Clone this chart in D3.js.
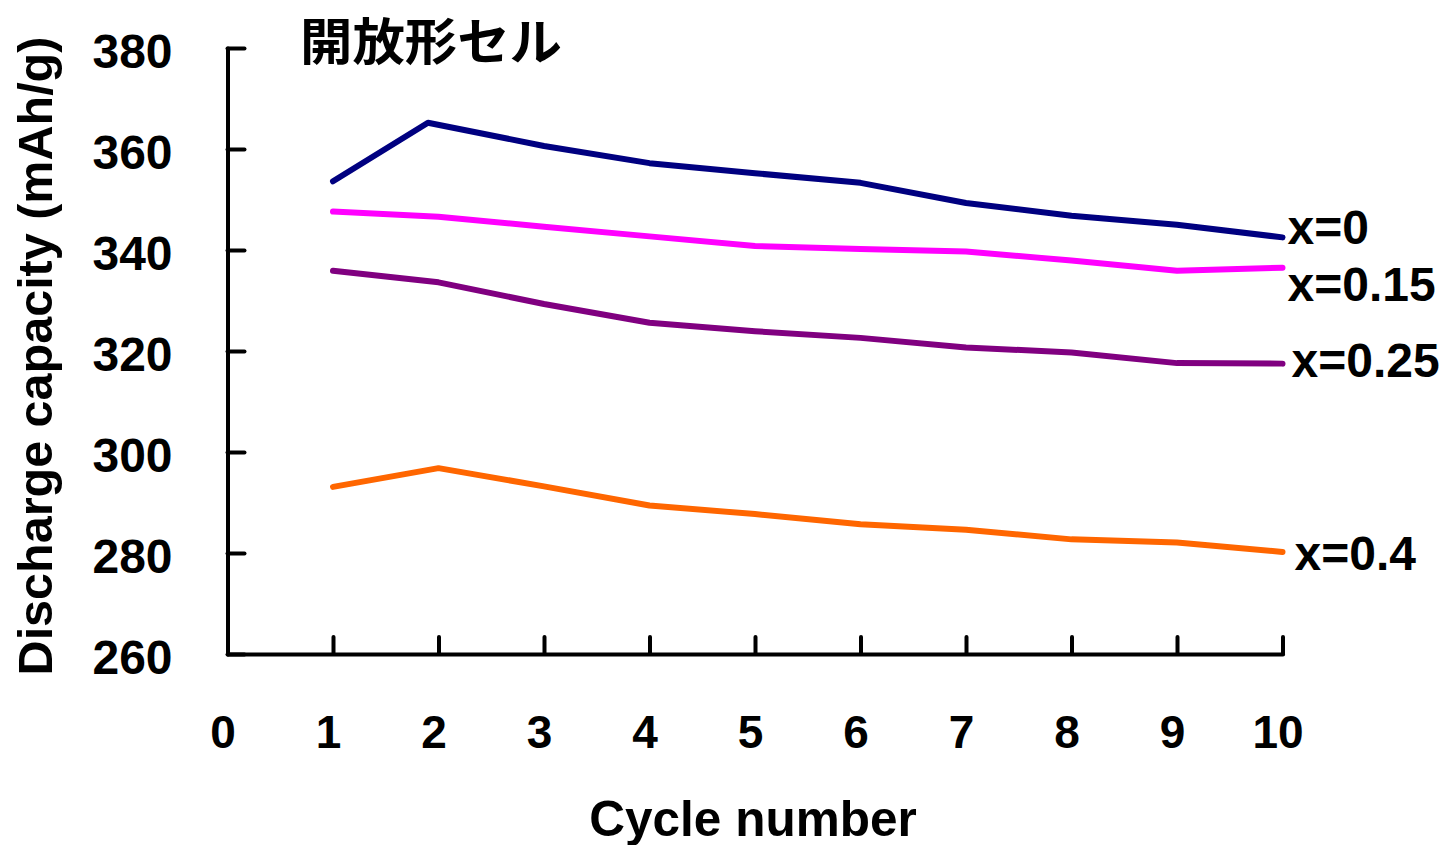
<!DOCTYPE html>
<html>
<head>
<meta charset="utf-8">
<script src="https://cdn.jsdelivr.net/npm/d3@7"></script>
<style>
  html, body { margin: 0; padding: 0; background: #fff; }
  svg { display: block; }
  text { font-family: "Liberation Sans", Arial, sans-serif; font-weight: bold; fill: #000; }
  .title { font-family: "Noto Sans CJK JP", "Noto Sans CJK SC", sans-serif; font-weight: 700; }
</style>
</head>
<body>
<svg id="chart" width="1445" height="845"></svg>
<script>
// Discharge capacity per cycle for each composition x
const cycleTicks = [0, 1, 2, 3, 4, 5, 6, 7, 8, 9, 10];
const capacityTicks = [260, 280, 300, 320, 340, 360, 380];

const cyclesX0    = [1, 1.9, 3, 4, 5, 6, 7, 8, 9, 10];
const cyclesOther = [1, 2, 3, 4, 5, 6, 7, 8, 9, 10];

const capX0   = [353.6, 365.2, 360.6, 357.2, 355.2, 353.3, 349.3, 346.8, 345.0, 342.5];
const capX015 = [347.6, 346.6, 344.6, 342.7, 340.8, 340.2, 339.7, 337.9, 335.9, 336.5];
const capX025 = [335.9, 333.6, 329.3, 325.6, 323.9, 322.6, 320.7, 319.7, 317.6, 317.5];
const capX04  = [293.1, 296.8, 293.2, 289.4, 287.7, 285.7, 284.6, 282.7, 282.1, 280.2];

const seriesNames  = ["x=0", "x=0.15", "x=0.25", "x=0.4"];
const seriesColors = ["#000080", "#ff00ff", "#800080", "#ff6600"];

const series = [
  { name: seriesNames[0], color: seriesColors[0], xs: cyclesX0,    ys: capX0,   dx: 5,  dy: 7 },
  { name: seriesNames[1], color: seriesColors[1], xs: cyclesOther, ys: capX015, dx: 5,  dy: 33 },
  { name: seriesNames[2], color: seriesColors[2], xs: cyclesOther, ys: capX025, dx: 9,  dy: 13 },
  { name: seriesNames[3], color: seriesColors[3], xs: cyclesOther, ys: capX04,  dx: 12, dy: 18 }
];

const svg = d3.select("#chart");

const x = d3.scaleLinear().domain([0, 10]).range([227.5, 1282.5]);
const y = d3.scaleLinear().domain([260, 380]).range([654, 48]);

// Title
svg.append("text")
  .attr("class", "title")
  .attr("x", 300)
  .attr("y", 60)
  .attr("font-size", 50)
  .attr("textLength", 262)
  .attr("lengthAdjust", "spacingAndGlyphs")
  .text("開放形セル");

// Y axis (ticks pointing inward)
const yAxis = svg.append("g")
  .attr("transform", `translate(${x(0)},0)`)
  .call(d3.axisLeft(y).tickValues(capacityTicks).tickSize(-17).tickSizeOuter(0).tickPadding(55));
yAxis.select(".domain").attr("stroke", "#000").attr("stroke-width", 4).attr("stroke-linecap", "round");
yAxis.selectAll(".tick line").attr("stroke", "#000").attr("stroke-width", 4).attr("stroke-linecap", "round");
yAxis.selectAll(".tick text")
  .attr("font-size", 48)
  .attr("font-family", "'Liberation Sans', Arial, sans-serif")
  .attr("font-weight", "bold")
  .attr("dy", "0.4em")
  .attr("textLength", 80)
  .attr("lengthAdjust", "spacingAndGlyphs");

// X axis (ticks pointing inward)
const xAxis = svg.append("g")
  .attr("transform", `translate(0,${y(260)})`)
  .call(d3.axisBottom(x).tickValues(cycleTicks).tickSize(-17).tickSizeOuter(0).tickPadding(0));
xAxis.select(".domain").attr("stroke", "#000").attr("stroke-width", 4).attr("stroke-linecap", "round");
xAxis.selectAll(".tick line").attr("stroke", "#000").attr("stroke-width", 4).attr("stroke-linecap", "round");
xAxis.selectAll(".tick text")
  .attr("font-size", 46)
  .attr("font-family", "'Liberation Sans', Arial, sans-serif")
  .attr("font-weight", "bold")
  .attr("y", 94)
  .attr("dy", null)
  .attr("dx", -5);

// Axis titles
svg.append("text")
  .attr("transform", `translate(52,${(40 + 672) / 2}) rotate(-90)`)
  .attr("text-anchor", "middle")
  .attr("font-size", 48.5)
  .text("Discharge capacity (mAh/g)");

svg.append("text")
  .attr("x", 753)
  .attr("y", 836)
  .attr("text-anchor", "middle")
  .attr("font-size", 49.5)
  .text("Cycle number");

// Lines
const line = d3.line()
  .x(d => x(d[0]))
  .y(d => y(d[1]));

svg.append("g").selectAll("path")
  .data(series)
  .join("path")
  .attr("d", s => line(s.xs.map((c, i) => [c, s.ys[i]])))
  .attr("fill", "none")
  .attr("stroke", s => s.color)
  .attr("stroke-width", 6)
  .attr("stroke-linejoin", "round")
  .attr("stroke-linecap", "round");

// Series labels at the line ends
svg.append("g").selectAll("text")
  .data(series)
  .join("text")
  .attr("x", s => x(s.xs[s.xs.length - 1]) + s.dx)
  .attr("y", s => y(s.ys[s.ys.length - 1]) + s.dy)
  .attr("font-size", 48)
  .text(s => s.name);
</script>
</body>
</html>
